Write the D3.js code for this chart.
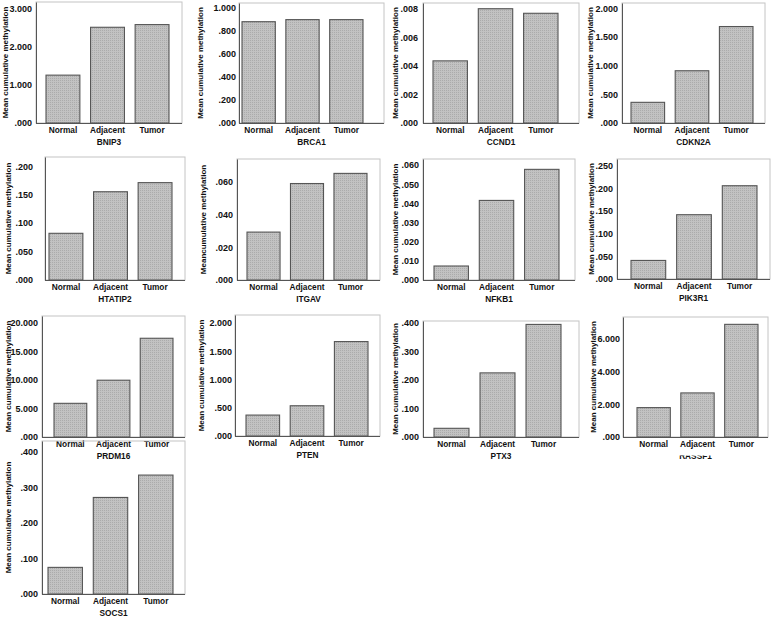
<!DOCTYPE html>
<html>
<head>
<meta charset="utf-8">
<script src="https://cdn.jsdelivr.net/npm/d3@7"></script>
<style>
  body { margin: 0; background: #fff; }
  svg { display: block; font-family: "Liberation Sans", Arial, sans-serif; font-weight: bold; }
</style>
</head>
<body>
<svg id="chart" width="773" height="618"></svg>
<script>
// data
const genes = ["BNIP3", "BRCA1", "CCND1", "CDKN2A", "HTATIP2", "ITGAV", "NFKB1",
  "PIK3R1", "PRDM16", "PTEN", "PTX3", "RASSF1", "SOCS1"];
const groups = ["Normal", "Adjacent", "Tumor"];
const normal = [1.25, 0.878, 0.00435, 0.36, 0.082, 0.0293, 0.0073, 0.041, 5.9, 0.37, 0.0305, 1.8, 0.075];
const adjacent = [2.50, 0.896, 0.0080, 0.91, 0.155, 0.059, 0.0415, 0.142, 9.95, 0.535, 0.225, 2.7, 0.272];
const tumor = [2.57, 0.896, 0.00768, 1.68, 0.171, 0.0652, 0.0577, 0.206, 17.3, 1.67, 0.395, 6.9, 0.335];
const axisMax = [3.16, 1.04, 0.0084, 2.09, 0.216, 0.074, 0.0631, 0.265, 21.2, 2.14, 0.407, 7.35, 0.431];
const yTicks = [
  [0, 1, 2, 3],
  [0, 0.2, 0.4, 0.6, 0.8, 1],
  [0, 0.002, 0.004, 0.006, 0.008],
  [0, 0.5, 1, 1.5, 2],
  [0, 0.05, 0.1, 0.15, 0.2],
  [0, 0.02, 0.04, 0.06],
  [0, 0.01, 0.02, 0.03, 0.04, 0.05, 0.06],
  [0, 0.05, 0.1, 0.15, 0.2, 0.25],
  [0, 5, 10, 15, 20],
  [0, 0.5, 1, 1.5, 2],
  [0, 0.1, 0.2, 0.3, 0.4],
  [0, 2, 4, 6],
  [0, 0.1, 0.2, 0.3, 0.4]
];
const yTitles = genes.map((g, i) => i === 5 ? "Meancumulative methylation" : "Mean cumulative methylation");

// panel layout: frame [x0, y0, x1, y1], bar span [b0, b1], tick label gap, y-title x
const frames = [
  [36, 2, 182, 123], [239, 3, 384, 123], [423, 3, 579, 123], [622, 3, 765, 123],
  [45, 157, 185, 280], [237, 159, 380, 280], [423, 159, 575, 280], [617, 159, 770, 279],
  [42, 316, 185, 437], [235, 315, 380, 436], [423, 321, 579, 437], [623, 317, 768, 437],
  [42, 441, 185, 594]
];
const barSpans = [
  [46, 169], [242, 363], [433, 558], [631, 753],
  [49, 172], [247, 367], [434, 559], [631, 757],
  [54, 173], [246, 368], [434, 561], [637, 758],
  [48, 173]
];
const labelGap = [4, 3, 5, 4, 12, 4, 4, 4, 4, 3, 4, 3, 4];
const titleX = [5, 200, 395, 590, 8, 203, 395, 591, 8, 201, 395, 593, 8];

const svg = d3.select("#chart");

// fine stippled texture of the bars
const defs = svg.append("defs");
const pat = defs.append("pattern")
  .attr("id", "stipple")
  .attr("width", 2).attr("height", 2)
  .attr("patternUnits", "userSpaceOnUse");
pat.append("rect").attr("width", 2).attr("height", 2).attr("fill", "#c2c2c2");
pat.append("rect").attr("width", 1).attr("height", 1).attr("fill", "#ababab");

const fmt = v => d3.format(".3f")(v).replace(/^0\./, ".");

genes.forEach((gene, i) => {
  const [x0, y0, x1, y1] = frames[i];
  const g = svg.append("g");

  const x = d3.scaleBand()
    .domain(groups)
    .range(barSpans[i])
    .paddingInner(0.24)
    .paddingOuter(0);

  const y = d3.scaleLinear()
    .domain([0, axisMax[i]])
    .range([y1, y0]);

  // frame (no fill, so labels of the panel above stay visible)
  g.append("rect")
    .attr("x", x0).attr("y", y0)
    .attr("width", x1 - x0).attr("height", y1 - y0)
    .attr("fill", "none")
    .attr("stroke", "#c4c4c4")
    .attr("stroke-width", 1);

  const vals = [normal[i], adjacent[i], tumor[i]];
  g.selectAll(".bar")
    .data(groups.map((k, j) => ({ k, v: vals[j] })))
    .enter()
    .append("rect")
    .attr("class", "bar")
    .attr("x", d => x(d.k))
    .attr("y", d => y(d.v))
    .attr("width", x.bandwidth())
    .attr("height", d => y1 - y(d.v))
    .attr("fill", "url(#stipple)")
    .attr("stroke", "#555")
    .attr("stroke-width", 1.1);

  // y axis
  const ya = g.append("g")
    .attr("transform", `translate(${x0},0)`)
    .call(d3.axisLeft(y).tickValues(yTicks[i]).tickFormat(fmt).tickSize(0).tickPadding(labelGap[i]));
  ya.select(".domain").attr("stroke", "#555");
  ya.selectAll("text").attr("fill", "#111").style("font-size", "9px").style("font-weight", "bold");

  // x axis
  const xa = g.append("g")
    .attr("transform", `translate(0,${y1})`)
    .call(d3.axisBottom(x).tickSize(0).tickPadding(4));
  xa.select(".domain").attr("d", `M${x0},0.5H${x1}`).attr("stroke", "#555");
  xa.selectAll("text").attr("fill", "#111").style("font-size", "8.3px").style("font-weight", "bold");

  // gene label
  const gl = g.append("text")
    .attr("x", (x0 + x1) / 2)
    .attr("y", y1 + 22)
    .attr("text-anchor", "middle")
    .attr("fill", "#111")
    .style("font-size", "8.3px")
    .text(gene);
  if (gene === "RASSF1") {
    // label is partly hidden in the source figure
    defs.append("clipPath").attr("id", "cutLabel")
      .append("rect").attr("x", x0).attr("y", y1 + 18.5).attr("width", x1 - x0).attr("height", 10);
    gl.attr("clip-path", "url(#cutLabel)");
  }

  // y title
  g.append("text")
    .attr("transform", `translate(${titleX[i] + 3},${(y0 + y1) / 2}) rotate(-90)`)
    .attr("text-anchor", "middle")
    .attr("fill", "#111")
    .style("font-size", "8px")
    .text(yTitles[i]);
});
</script>
</body>
</html>
